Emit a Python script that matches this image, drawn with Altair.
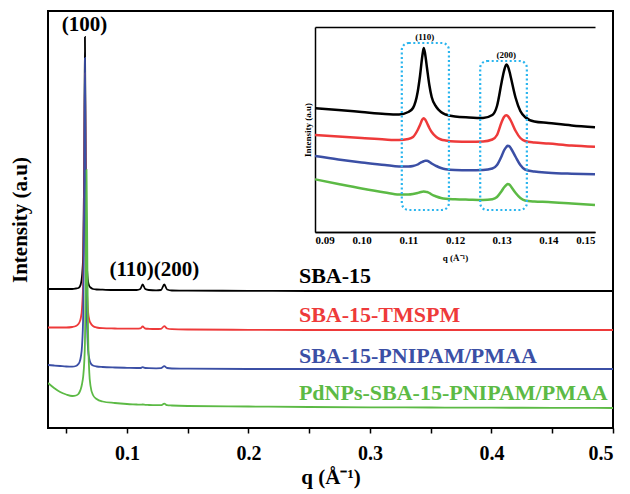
import altair as alt
import pandas as pd

# ---------------- main panel data ----------------
series = ["SBA-15", "SBA-15-TMSPM", "SBA-15-PNIPAM/PMAA", "PdNPs-SBA-15-PNIPAM/PMAA"]
colors = ["#000000", "#ee3a3a", "#3b4fa5", "#5cba45"]

q_main = [0.035, 0.04, 0.045, 0.05, 0.055, 0.058, 0.06, 0.061, 0.062, 0.063, 0.064,
          0.0648, 0.0654, 0.066, 0.0667, 0.0675, 0.068, 0.069, 0.07, 0.072, 0.075,
          0.08, 0.09, 0.10, 0.108, 0.111, 0.1129, 0.115, 0.118, 0.124, 0.128, 0.1307,
          0.133, 0.137, 0.15, 0.2, 0.25, 0.3, 0.35, 0.4, 0.45, 0.5]

i_sba15 = [139, 139, 139, 139, 139, 139.5, 140, 141, 144, 152, 175,
           260, 391, 270, 175, 152, 146, 142, 140.5, 139, 138.5,
           138.3, 138, 138, 138, 139, 143.5, 139, 138, 137.7, 138, 143.5,
           138.5, 137.5, 137.3, 137.2, 137, 137, 137, 137, 137, 137]
i_tmspm = [100.5, 100.5, 100.5, 100.5, 101, 102, 104, 106, 110, 120, 150,
           240, 355, 250, 155, 125, 116, 108, 105, 102, 100.5,
           99.8, 99.5, 99.3, 99.3, 99.6, 101.5, 99.5, 99.2, 99, 99.2, 101.8,
           99.5, 98.8, 98.5, 98.2, 98, 98, 98, 98, 98, 98]
i_pnipam = [63, 62.5, 62, 61.5, 61.3, 62, 64, 66, 71, 82, 115,
            220, 370, 240, 130, 90, 78, 69, 65, 62.5, 61.5,
            61, 60.5, 60.2, 60, 60, 60.8, 60, 59.8, 59.7, 59.8, 61.8,
            60, 59.5, 59.3, 59, 59, 59, 59, 59, 59, 59]
i_pdnps = [45, 40, 36, 33.5, 32, 32.5, 34, 36, 39, 44, 52,
           65, 85, 140, 258, 150, 95, 55, 42, 33, 29,
           26.5, 25, 24, 23.5, 23.3, 23.5, 23.2, 23, 22.8, 22.8, 24.3,
           22.8, 22.5, 22, 21.5, 21, 20.7, 20.5, 20.3, 20.2, 20]

label_q = [0.2415, 0.2415, 0.2415, 0.2415]
label_i = [152, 113, 72, 35]

peak_text = ["(100)", "(110)(200)"]
peak_q = [0.0650, 0.1225]
peak_i = [403, 158]

x_ticks = [0.05, 0.1, 0.15, 0.2, 0.25, 0.3, 0.35, 0.4, 0.45, 0.5]

# ---------------- inset data ----------------
q_inset = [0.09, 0.095, 0.10, 0.105, 0.108, 0.110, 0.111, 0.112, 0.1125, 0.113, 0.1133,
           0.1136, 0.114, 0.1145, 0.115, 0.116, 0.117, 0.118, 0.120, 0.123, 0.126,
           0.128, 0.129, 0.130, 0.1305, 0.131, 0.1313, 0.1317, 0.132, 0.133, 0.134,
           0.135, 0.137, 0.140, 0.145, 0.15]
in_sba15 = [123.7, 122, 120, 118, 117.5, 120, 124, 140, 156, 176, 184,
            178, 164, 147, 135, 125, 120, 117.5, 115.5, 114.5, 114,
            117, 126, 150, 161, 167.5, 166, 160, 154, 134, 121,
            115, 110.5, 109, 106.5, 104.7]
in_tmspm = [97, 95.5, 94, 92.5, 92, 93, 95, 102, 107, 112.5, 113.7,
            112.5, 109, 104, 100, 95, 92.5, 91.5, 90.5, 90.3, 90.5,
            92.5, 97, 110, 115, 116.8, 116, 113.5, 111, 101, 94,
            91, 89.5, 88.5, 86.5, 85.3]
in_pnipam = [76, 72.5, 69.5, 67, 65.5, 65.5, 66, 67.5, 69, 70.2, 70.8,
             71.2, 71.2, 70.2, 68.5, 66, 64, 62.8, 62, 61.8, 62,
             63.5, 67, 76, 81.5, 85, 86.3, 85.5, 83.5, 75, 67,
             62.5, 60.5, 59.3, 58.3, 57.7]
in_pdnps = [52.7, 48, 43.5, 39.5, 37.5, 37.5, 38, 39, 39.7, 40.2, 40.4,
            40.3, 40, 39, 37.5, 35.5, 34, 33.2, 32.7, 32.3, 32,
            32.8, 35, 41, 44.5, 47, 48, 47.3, 45.5, 39, 34,
            31.5, 30.5, 30, 28.5, 27]

inset_q_domain = [0.09, 0.15]
inset_i_domain = [0, 205]

# the two dotted peak boxes in the inset
box_q1 = [0.1086, 0.1254]
box_q2 = [0.1187, 0.1354]
box_lo = [22, 22]
box_hi = [189, 171]

box_text = ["(110)", "(200)"]
box_text_q = [0.1135, 0.1310]
box_text_i = [195, 177]

inset_major = [0.09, 0.10, 0.11, 0.12, 0.13, 0.14, 0.15]

# ---------------- build tables ----------------
main_rows = []
for s, vals in zip(series, [i_sba15, i_tmspm, i_pnipam, i_pdnps]):
    for q, v in zip(q_main, vals):
        main_rows.append({"q": q, "I": v, "s": s})
main_df = pd.DataFrame(main_rows)

inset_rows = []
for s, vals in zip(series, [in_sba15, in_tmspm, in_pnipam, in_pdnps]):
    for q, v in zip(q_inset, vals):
        inset_rows.append({"q": q, "I": v, "s": s})
inset_df = pd.DataFrame(inset_rows)

labels_df = pd.DataFrame({"q": label_q, "I": label_i, "s": series})
peaks_df = pd.DataFrame({"q": peak_q, "I": peak_i, "t": peak_text})
boxes_df = pd.DataFrame({"q": box_q1, "q2": box_q2, "I": box_lo, "I2": box_hi})
boxlab_df = pd.DataFrame({"q": box_text_q, "I": box_text_i, "t": box_text})

SERIF = "Liberation Serif"
W, H = 565, 417
color_scale = alt.Scale(domain=series, range=colors)

# ---------------- main layer ----------------
x_main = alt.X("q:Q", scale=alt.Scale(domain=[0.035, 0.5], nice=False, zero=False),
               axis=alt.Axis(values=x_ticks, title="q (Å⁻¹)",
                             labelExpr="round(datum.value*100) % 10 == 0 ? format(datum.value, '.1f') : ''",
                             labelFont=SERIF, labelFontWeight="bold", labelFontSize=20,
                             labelColor="black", tickColor="black", tickSize=5, tickWidth=1.5,
                             labelPadding=10, domain=False, grid=False,
                             titleFont=SERIF, titleFontWeight="bold", titleFontSize=21,
                             titleColor="black", titlePadding=3))
y_main = alt.Y("I:Q", scale=alt.Scale(domain=[0, 417], nice=False, zero=False),
               axis=alt.Axis(title="Intensity (a.u)", labels=False, ticks=False, domain=False,
                             grid=False, titleFont=SERIF, titleFontWeight="bold",
                             titleFontSize=21, titleColor="black", titlePadding=18))

main_lines = alt.Chart(main_df).mark_line(strokeWidth=1.8, interpolate="monotone", clip=True).encode(
    x=x_main, y=y_main,
    color=alt.Color("s:N", scale=color_scale, legend=None),
    order=alt.Order("q:Q"),
    detail="s:N",
)
main_labels = alt.Chart(labels_df).mark_text(
    align="left", baseline="middle", font=SERIF, fontWeight="bold", fontSize=22
).encode(x="q:Q", y="I:Q", text="s:N",
         color=alt.Color("s:N", scale=color_scale, legend=None))
main_peaks = alt.Chart(peaks_df).mark_text(
    align="center", baseline="middle", font=SERIF, fontWeight="bold", fontSize=21, color="black"
).encode(x="q:Q", y="I:Q", text="t:N")

main_layer = alt.layer(main_lines, main_labels, main_peaks)

# ---------------- inset layer ----------------
IX = [267, 547]
IY = [221, 16]
x_in = alt.X("q:Q", scale=alt.Scale(domain=inset_q_domain, range=IX, nice=False, zero=False),
             axis=alt.Axis(orient="bottom", offset=-(H - IY[0]), values=inset_major, format=".2f",
                           labelFont=SERIF, labelFontWeight="bold", labelFontSize=11,
                           labelColor="black", ticks=False, labelPadding=2,
                           domain=True, domainColor="black", domainWidth=1.5, grid=False,
                           title="q (Å⁻¹)", titleFont=SERIF, titleFontWeight="bold",
                           titleFontSize=9, titleColor="black", titlePadding=8))
y_in = alt.Y("I:Q", scale=alt.Scale(domain=inset_i_domain, range=IY, nice=False, zero=False),
             axis=alt.Axis(orient="left", offset=-IX[0], values=inset_i_domain, labels=False,
                           ticks=False, domain=True, domainColor="black", domainWidth=1.5,
                           grid=True, gridColor="black", gridWidth=1.5,
                           title="Intensity (a.u)", titleFont=SERIF,
                           titleFontWeight="bold", titleFontSize=9, titleColor="black",
                           titlePadding=3))

inset_lines = alt.Chart(inset_df).mark_line(strokeWidth=2.5, interpolate="monotone").encode(
    x=x_in, y=y_in,
    color=alt.Color("s:N", scale=color_scale, legend=None),
    order=alt.Order("q:Q"),
    detail="s:N",
)
inset_boxes = alt.Chart(boxes_df).mark_rect(
    filled=False, stroke="#2bb5ee", strokeWidth=2.2, strokeDash=[2, 2.5], cornerRadius=7
).encode(x="q:Q", x2="q2:Q", y="I:Q", y2="I2:Q")
inset_boxlab = alt.Chart(boxlab_df).mark_text(
    align="center", baseline="middle", font=SERIF, fontWeight="bold", fontSize=9, color="black"
).encode(x="q:Q", y="I:Q", text="t:N")

inset_layer = alt.layer(inset_lines, inset_boxes, inset_boxlab)

chart = alt.layer(main_layer, inset_layer).resolve_scale(
    x="independent", y="independent"
).resolve_axis(x="independent", y="independent").properties(
    width=W, height=H,
    autosize=alt.AutoSizeParams(type="none"),
    padding={"left": 40, "top": 3, "right": 9, "bottom": 70},
    background="white",
).configure_view(stroke="black", strokeWidth=2)

chart.save("out.html", embed_options={"renderer": "svg", "actions": False})
